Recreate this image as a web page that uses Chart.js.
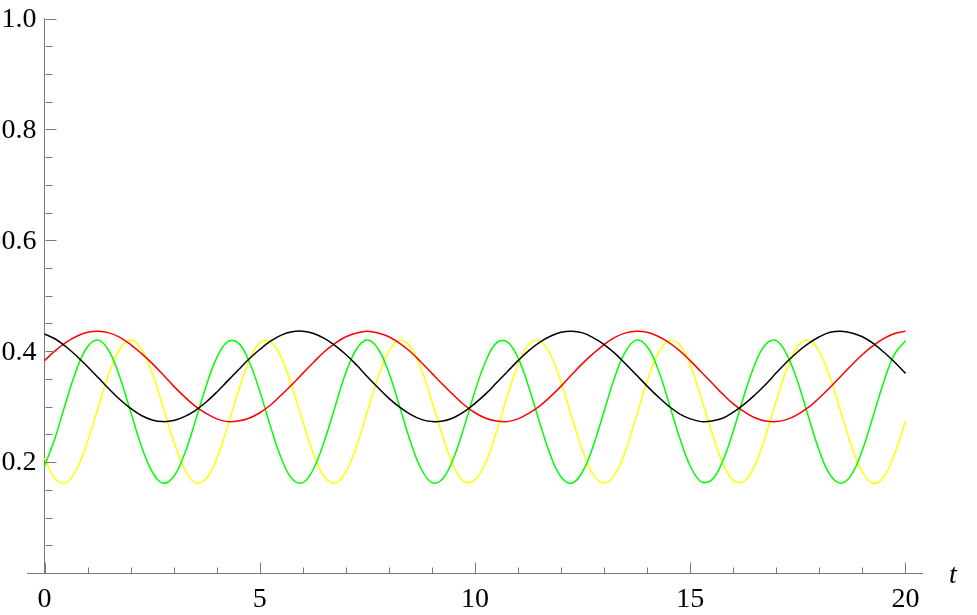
<!DOCTYPE html>
<html>
<head>
<meta charset="utf-8">
<script src="https://cdn.jsdelivr.net/npm/chart.js@4.4.1/dist/chart.umd.min.js"></script>
<style>
  html, body { margin: 0; padding: 0; background: #fff; }
  canvas { display: block; }
</style>
</head>
<body>
<canvas id="chart" width="977" height="615"></canvas>
<script>
// t values (every 0.25 from 0 to 20)
const tValues = [
  0, 0.25, 0.5, 0.75, 1, 1.25, 1.5, 1.75, 2, 2.25, 2.5, 2.75, 3, 3.25, 3.5, 3.75,
  4, 4.25, 4.5, 4.75, 5, 5.25, 5.5, 5.75, 6, 6.25, 6.5, 6.75, 7, 7.25, 7.5, 7.75,
  8, 8.25, 8.5, 8.75, 9, 9.25, 9.5, 9.75, 10, 10.25, 10.5, 10.75, 11, 11.25, 11.5, 11.75,
  12, 12.25, 12.5, 12.75, 13, 13.25, 13.5, 13.75, 14, 14.25, 14.5, 14.75, 15, 15.25, 15.5, 15.75,
  16, 16.25, 16.5, 16.75, 17, 17.25, 17.5, 17.75, 18, 18.25, 18.5, 18.75, 19, 19.25, 19.5, 19.75, 20
];

// valores
const blackValues = [
  0.431, 0.422, 0.408, 0.391, 0.372, 0.352, 0.332, 0.313, 0.297, 0.284, 0.276, 0.273, 0.275, 0.282, 0.293, 0.308,
  0.326, 0.346, 0.366, 0.386, 0.403, 0.418, 0.429, 0.435, 0.436, 0.432, 0.423, 0.410, 0.394, 0.375, 0.354, 0.334,
  0.315, 0.299, 0.286, 0.277, 0.273, 0.274, 0.280, 0.291, 0.306, 0.323, 0.343, 0.363, 0.383, 0.401, 0.416, 0.427,
  0.434, 0.436, 0.433, 0.424, 0.412, 0.396, 0.377, 0.357, 0.337, 0.318, 0.301, 0.287, 0.278, 0.273, 0.274, 0.279,
  0.290, 0.304, 0.321, 0.340, 0.361, 0.381, 0.399, 0.414, 0.426, 0.434, 0.436, 0.433, 0.426, 0.414, 0.398, 0.380, 0.360
];
const redValues = [
  0.383, 0.401, 0.416, 0.427, 0.434, 0.436, 0.433, 0.425, 0.412, 0.396, 0.378, 0.358, 0.337, 0.318, 0.301, 0.288,
  0.278, 0.273, 0.274, 0.279, 0.289, 0.303, 0.321, 0.340, 0.360, 0.380, 0.399, 0.414, 0.426, 0.433, 0.436, 0.433,
  0.426, 0.414, 0.399, 0.380, 0.360, 0.340, 0.321, 0.303, 0.289, 0.279, 0.274, 0.273, 0.278, 0.288, 0.301, 0.318,
  0.337, 0.358, 0.378, 0.396, 0.412, 0.425, 0.433, 0.436, 0.434, 0.427, 0.416, 0.401, 0.383, 0.363, 0.343, 0.323,
  0.305, 0.291, 0.280, 0.274, 0.273, 0.277, 0.286, 0.299, 0.316, 0.335, 0.355, 0.375, 0.394, 0.410, 0.423, 0.432, 0.436
];
const greenValues = [
  0.193, 0.245, 0.309, 0.368, 0.408, 0.420, 0.400, 0.353, 0.291, 0.229, 0.183, 0.162, 0.174, 0.214, 0.273, 0.336,
  0.388, 0.417, 0.415, 0.382, 0.328, 0.264, 0.207, 0.170, 0.163, 0.188, 0.238, 0.300, 0.361, 0.404, 0.420, 0.404,
  0.361, 0.300, 0.237, 0.188, 0.163, 0.170, 0.207, 0.264, 0.328, 0.382, 0.415, 0.417, 0.388, 0.335, 0.272, 0.213,
  0.173, 0.162, 0.183, 0.230, 0.292, 0.354, 0.400, 0.420, 0.408, 0.368, 0.308, 0.245, 0.193, 0.165, 0.168, 0.201,
  0.256, 0.320, 0.376, 0.412, 0.419, 0.393, 0.344, 0.281, 0.220, 0.177, 0.162, 0.178, 0.222, 0.283, 0.346, 0.395, 0.419
];
const yellowValues = [
  0.207, 0.170, 0.163, 0.188, 0.237, 0.300, 0.360, 0.404, 0.420, 0.404, 0.361, 0.300, 0.238, 0.188, 0.163, 0.170,
  0.206, 0.264, 0.327, 0.382, 0.415, 0.417, 0.388, 0.336, 0.273, 0.214, 0.174, 0.162, 0.183, 0.229, 0.291, 0.353,
  0.400, 0.420, 0.408, 0.368, 0.309, 0.246, 0.193, 0.165, 0.168, 0.200, 0.255, 0.319, 0.376, 0.412, 0.419, 0.394,
  0.344, 0.281, 0.221, 0.177, 0.162, 0.178, 0.222, 0.283, 0.346, 0.395, 0.419, 0.412, 0.375, 0.317, 0.254, 0.199,
  0.167, 0.165, 0.194, 0.247, 0.311, 0.369, 0.409, 0.420, 0.399, 0.352, 0.290, 0.228, 0.182, 0.162, 0.174, 0.215, 0.274
];

// marcas de los ejes
const xTickValues = [0, 1, 2, 3, 4, 5, 6, 7, 8, 9, 10, 11, 12, 13, 14, 15, 16, 17, 18, 19, 20];
const xLabelValues = [0, 5, 10, 15, 20];
const yTickValues = [0.05, 0.1, 0.15, 0.2, 0.25, 0.3, 0.35, 0.4, 0.45, 0.5, 0.55, 0.6, 0.65, 0.7, 0.75, 0.8, 0.85, 0.9, 0.95, 1.0];
const yLabelValues = [0.2, 0.4, 0.6, 0.8, 1.0];

const axisColor = '#7a7a7a';
const serifFamily = '"Liberation Serif", "DejaVu Serif", serif';
const labelFont = { family: serifFamily, size: 28 };

function toPoints(values) {
    return tValues.map((t, i) => ({ x: t, y: values[i] }));
}

function isLabel(list, v) {
    return list.some(l => Math.abs(l - v) < 1e-9);
}

function serie(values, color) {
    return {
        data: toPoints(values),
        borderColor: color,
        borderWidth: 1.5,
        pointRadius: 0,
        tension: 0.4,
        fill: false,
    };
}

// marcas hacia dentro, etiquetas del eje y, y la "t"
const innerTicks = {
    id: 'innerTicks',
    afterDraw(chart) {
        const ctx = chart.ctx;
        const xs = chart.scales.x;
        const ys = chart.scales.y;
        const x0 = Math.round(xs.getPixelForValue(0)) + 0.5;
        const y0 = Math.round(ys.getPixelForValue(0)) + 0.5;
        ctx.save();
        ctx.strokeStyle = axisColor;
        ctx.lineWidth = 1;
        ctx.beginPath();
        xTickValues.forEach(v => {
            const px = Math.round(xs.getPixelForValue(v)) + 0.5;
            const len = isLabel(xLabelValues, v) ? 11 : 6;
            ctx.moveTo(px, y0);
            ctx.lineTo(px, y0 - len);
        });
        yTickValues.forEach(v => {
            const py = Math.round(ys.getPixelForValue(v)) + 0.5;
            const len = isLabel(yLabelValues, v) ? 11 : 7;
            ctx.moveTo(x0, py);
            ctx.lineTo(x0 + len, py);
        });
        ctx.stroke();

        ctx.fillStyle = '#000';
        ctx.font = `28px ${serifFamily}`;
        ctx.textAlign = 'right';
        ctx.textBaseline = 'middle';
        yLabelValues.forEach(v => {
            ctx.fillText(v.toFixed(1), x0 - 9, ys.getPixelForValue(v) + 1);
        });

        ctx.font = `italic 28px ${serifFamily}`;
        ctx.textAlign = 'center';
        ctx.textBaseline = 'alphabetic';
        ctx.fillText('t', 953, 583);
        ctx.restore();
    }
};

new Chart(document.getElementById('chart'), {
    type: 'line',
    data: {
        datasets: [
            serie(blackValues, '#000000'),
            serie(redValues, '#ff0000'),
            serie(greenValues, '#00ff00'),
            serie(yellowValues, '#ffff00'),
        ],
    },
    options: {
        responsive: false,
        animation: false,
        devicePixelRatio: 1,
        layout: { padding: { left: 27.3, right: 54.3, top: 18.5, bottom: 42 } },
        plugins: { legend: { display: false }, tooltip: { enabled: false } },
        scales: {
            x: {
                type: 'linear',
                position: { y: 0 },
                min: -0.4,
                max: 20.4,
                afterBuildTicks: s => { s.ticks = xLabelValues.map(v => ({ value: v })); },
                afterFit: s => { s.paddingLeft = 0; s.paddingRight = 0; },
                grid: { display: false, drawTicks: false },
                border: { display: true, color: axisColor, width: 1 },
                ticks: { color: '#000', font: labelFont, padding: 10, maxRotation: 0, autoSkip: false },
            },
            y: {
                type: 'linear',
                position: { x: 0 },
                min: 0,
                max: 1,
                afterBuildTicks: s => { s.ticks = yLabelValues.map(v => ({ value: v })); },
                afterFit: s => { s.paddingTop = 0; s.paddingBottom = 0; },
                grid: { display: false, drawTicks: false },
                border: { display: true, color: axisColor, width: 1 },
                ticks: { display: false },
            },
        },
    },
    plugins: [innerTicks],
});
</script>
</body>
</html>
